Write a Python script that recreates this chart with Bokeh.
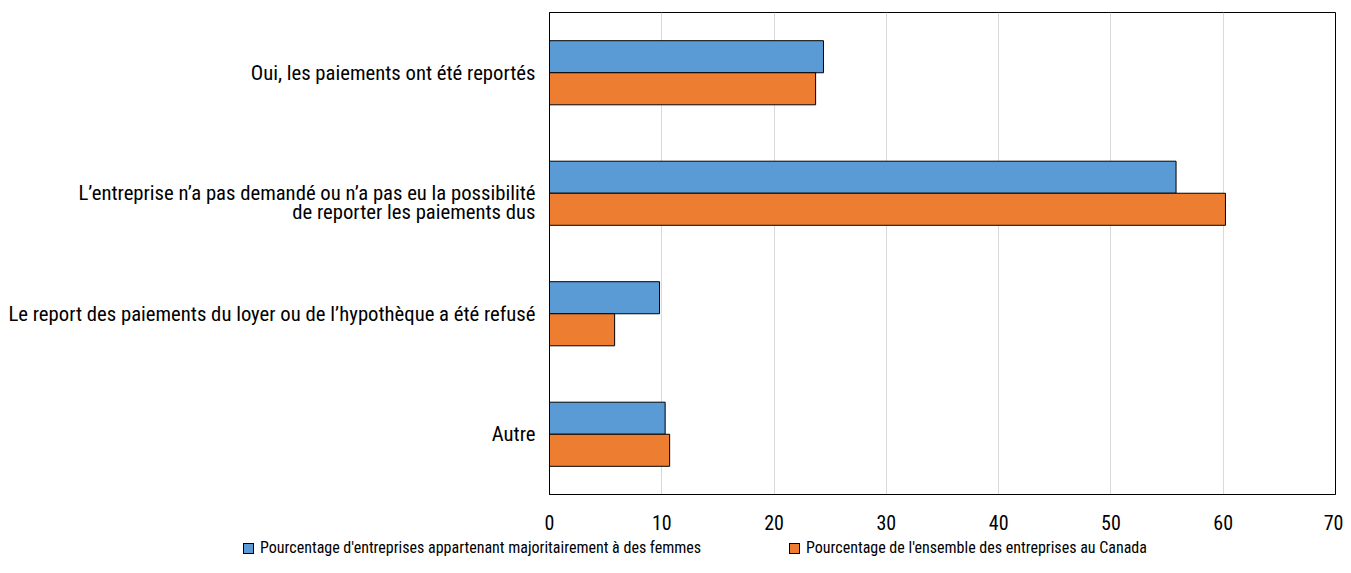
from bokeh.plotting import figure
from bokeh.layouts import column
from bokeh.models import ColumnDataSource, FactorRange, Range1d, Div
from bokeh.transform import dodge
from bokeh.embed import file_html
from bokeh.resources import INLINE

categories = [
    "Oui, les paiements ont été reportés",
    "\nL’entreprise n’a pas demandé ou n’a pas eu la possibilité\nde reporter les paiements dus",
    "Le report des paiements du loyer ou de l’hypothèque a été refusé",
    "Autre",
]
women_owned = [24.4, 55.8, 9.8, 10.3]
all_canada = [23.7, 60.2, 5.8, 10.7]
series_names = [
    "Pourcentage d'entreprises appartenant majoritairement à des femmes",
    "Pourcentage de l'ensemble des entreprises au Canada",
]
colors = ["#5B9BD5", "#ED7D31"]

FONT = "'Liberation Sans Narrow', 'Roboto Condensed', 'Arial Narrow', Roboto"
FS = "20.7px"

src = ColumnDataSource(dict(cat=categories, women=women_owned, canada=all_canada))

p = figure(
    frame_width=786, frame_height=482,
    y_range=FactorRange(factors=list(reversed(categories))),
    x_range=Range1d(0, 70),
    output_backend="svg", toolbar_location=None,
    min_border_left=549, min_border_right=8, min_border_top=12, min_border_bottom=42,
)

bh = 0.266
p.hbar(y=dodge("cat", 0.133, range=p.y_range), right="women", left=0, height=bh,
       source=src, fill_color=colors[0], line_color="black", line_width=1)
p.hbar(y=dodge("cat", -0.133, range=p.y_range), right="canada", left=0, height=bh,
       source=src, fill_color=colors[1], line_color="black", line_width=1)

p.outline_line_color = "black"
p.outline_line_width = 1
p.ygrid.grid_line_color = None
p.xgrid.grid_line_color = "#d9d9d9"
p.xgrid.grid_line_width = 1
p.xaxis.ticker = [0, 10, 20, 30, 40, 50, 60, 70]
p.xaxis.major_tick_line_color = None
p.xaxis.minor_tick_line_color = None
p.xaxis.axis_line_color = "black"
p.yaxis.major_tick_line_color = None
p.yaxis.minor_tick_line_color = None
p.yaxis.axis_line_color = "black"
for ax in (p.xaxis, p.yaxis):
    ax.major_label_text_font = FONT
    ax.major_label_text_font_size = FS
    ax.major_label_text_color = "black"
p.xaxis.major_label_text_font_size = "20px"
p.yaxis.major_label_text_line_height = 0.8
p.xaxis.major_label_standoff = 14
p.yaxis.major_label_standoff = 8

# legend strip below the chart (HTML)
legend_lefts = [243, 789]
items = []
for name, col, left in zip(series_names, colors, legend_lefts):
    items.append(
        f'<div style="position:absolute;left:{left}px;top:0;display:flex;align-items:center;'
        f'white-space:nowrap;font-family:{FONT};font-size:16px;color:black;line-height:24px;">'
        f'<span style="display:inline-block;width:11px;height:11px;background:{col};'
        f'border:1px solid black;margin-right:6px;"></span>{name}</div>'
    )
html = '<div style="position:relative;width:1343px;height:28px;">' + "".join(items) + "</div>"
leg = Div(text=html, width=1343, height=28, margin=0)

layout = column(p, leg, spacing=0)
open("out.html", "w").write(file_html(layout, INLINE))
